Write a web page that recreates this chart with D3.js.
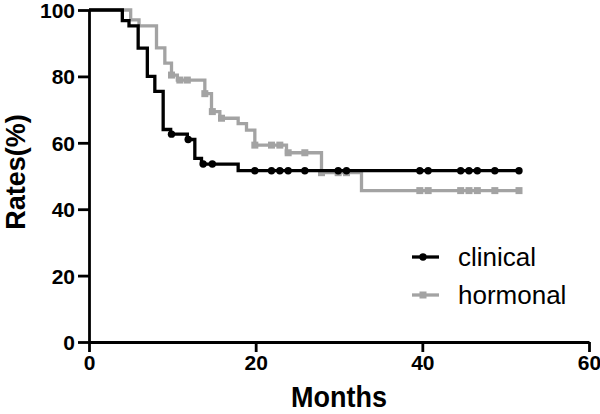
<!DOCTYPE html>
<html>
<head>
<meta charset="utf-8">
<script src="https://cdn.jsdelivr.net/npm/d3@7"></script>
<style>
  body { margin: 0; background: #fff; }
  svg { display: block; font-family: "Liberation Sans", Arial, sans-serif; }
</style>
</head>
<body>
<svg></svg>
<script>
// step points (month, rate %)
const clinicalTimes = [0, 4.0, 4.8, 5.9, 7.0, 7.9, 8.9, 9.8, 11.8, 12.7, 13.5, 17.9, 51.6];
const clinicalRates = [100, 96.8, 95.2, 88.5, 80.0, 75.5, 64.0, 62.6, 61.0, 55.3, 53.6, 51.6, 51.6];
const clinicalCensored = [9.9, 11.9, 13.7, 14.8, 19.9, 21.9, 22.9, 23.9, 25.9, 29.9, 30.9, 39.7, 40.7, 44.6, 45.6, 46.6, 48.7, 51.6];

const hormonalTimes = [0, 5.0, 6.0, 8.1, 9.1, 9.9, 10.6, 13.9, 14.7, 15.7, 17.9, 18.9, 19.9, 23.7, 27.9, 32.7, 51.6];
const hormonalRates = [100, 97.0, 95.2, 88.6, 84.0, 80.4, 78.9, 74.8, 69.4, 67.4, 65.8, 63.8, 59.3, 57.0, 51.0, 45.6, 45.6];
const hormonalCensored = [9.9, 10.9, 11.8, 13.9, 14.8, 15.9, 19.9, 21.9, 22.9, 23.9, 25.9, 27.9, 29.9, 30.9, 39.7, 40.7, 44.6, 45.6, 46.6, 48.7, 51.6];

const xTicks = [0, 20, 40, 60];
const yTicks = [0, 20, 40, 60, 80, 100];
const seriesNames = ["clinical", "hormonal"];

const width = 600;
const height = 414;
const margin = {top: 10, right: 11, bottom: 72, left: 89};

const svg = d3.select("svg")
  .attr("width", width)
  .attr("height", height);

const xScale = d3.scaleLinear().domain([0, 60]).range([margin.left, width - margin.right]);
const yScale = d3.scaleLinear().domain([0, 100]).range([height - margin.bottom, margin.top]);

const series = [
  {name: seriesNames[0], color: "#000", times: clinicalTimes, rates: clinicalRates, cens: clinicalCensored, mark: "circle"},
  {name: seriesNames[1], color: "#a3a3a3", times: hormonalTimes, rates: hormonalRates, cens: hormonalCensored, mark: "square"}
];

// level of a step curve at time t
function levelAt(s, t) {
  let v = s.rates[0];
  s.times.forEach((tt, i) => { if (tt <= t) v = s.rates[i]; });
  return v;
}

const line = d3.line()
  .x((d) => xScale(d[0]))
  .y((d) => yScale(d[1]))
  .curve(d3.curveStepAfter);

// draw hormonal first, clinical on top
[series[1], series[0]].forEach((s) => {
  const pts = s.times.map((t, i) => [t, s.rates[i]]);
  svg.append("path")
    .attr("d", line(pts))
    .attr("fill", "none")
    .attr("stroke", s.color)
    .attr("stroke-width", 3.3);

  const g = svg.append("g").attr("fill", s.color);
  if (s.mark === "circle") {
    g.selectAll("circle")
      .data(s.cens)
      .enter()
      .append("circle")
      .attr("cx", (d) => xScale(d))
      .attr("cy", (d) => yScale(levelAt(s, d)))
      .attr("r", 3.7);
  } else {
    g.selectAll("rect")
      .data(s.cens)
      .enter()
      .append("rect")
      .attr("x", (d) => xScale(d) - 3.5)
      .attr("y", (d) => yScale(levelAt(s, d)) - 3.5)
      .attr("width", 7)
      .attr("height", 7);
  }
});

// axes
const xAxis = d3.axisBottom(xScale).tickValues(xTicks).tickSize(10).tickPadding(3).tickSizeOuter(0);
const yAxis = d3.axisLeft(yScale).tickValues(yTicks).tickSize(11).tickPadding(3).tickSizeOuter(0);

const gx = svg.append("g")
  .attr("transform", `translate(0, ${height - margin.bottom})`)
  .call(xAxis);
const gy = svg.append("g")
  .attr("transform", `translate(${margin.left}, 0)`)
  .call(yAxis);

[gx, gy].forEach((g) => {
  g.select(".domain").attr("stroke", "#000").attr("stroke-width", 2.8);
  g.selectAll(".tick line").attr("stroke", "#000").attr("stroke-width", 2.8);
  g.selectAll(".tick text")
    .attr("fill", "#000")
    .style("font-size", "21px")
    .style("font-weight", "bold");
});
gy.selectAll(".tick text").attr("dy", "0.36em");

// axis titles
svg.append("text")
  .attr("transform", `translate(${(xScale(0) + xScale(60)) / 2}, 407) scale(1, 1.08)`)
  .attr("text-anchor", "middle")
  .style("font-size", "27px")
  .style("font-weight", "bold")
  .text("Months");

svg.append("text")
  .attr("transform", `translate(25, ${yScale(50) - 4}) rotate(-90)`)
  .attr("text-anchor", "middle")
  .style("font-size", "27px")
  .style("font-weight", "bold")
  .text("Rates(%)");

// legend
const legend = svg.append("g");
const entry = legend.selectAll("g")
  .data(series)
  .enter()
  .append("g")
  .attr("transform", (d, i) => `translate(0, ${257 + i * 38})`);

entry.append("line")
  .attr("x1", 412)
  .attr("x2", 439)
  .attr("stroke", (d) => d.color)
  .attr("stroke-width", 3.3);

entry.each(function (d) {
  const e = d3.select(this);
  if (d.mark === "circle") {
    e.append("circle").attr("cx", 423).attr("r", 3.7).attr("fill", d.color);
  } else {
    e.append("rect").attr("x", 419.5).attr("y", -3.5).attr("width", 7).attr("height", 7).attr("fill", d.color);
  }
});

entry.append("text")
  .attr("x", 458)
  .attr("y", 9)
  .style("font-size", "26px")
  .text((d) => d.name);
</script>
</body>
</html>
